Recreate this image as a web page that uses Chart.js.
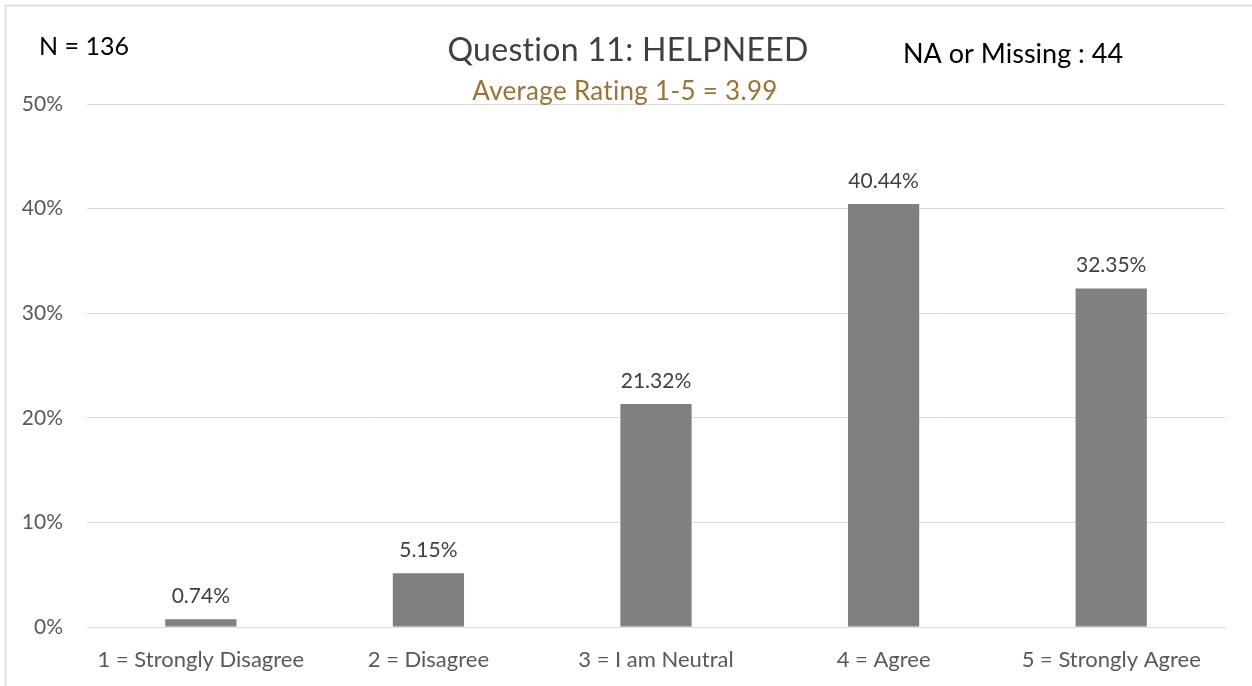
<!DOCTYPE html>
<html>
<head>
<meta charset="utf-8">
<script src="https://cdn.jsdelivr.net/npm/chart.js@4"></script>
<style>
  html, body { margin: 0; padding: 0; background: #ffffff; }
  #wrap { width: 1252px; height: 686px; position: relative; }
</style>
</head>
<body>
<div id="wrap"><canvas id="c" width="1252" height="686"></canvas></div>
<script>
const categories = ["1 = Strongly Disagree", "2 = Disagree", "3 = I am Neutral", "4 = Agree", "5 = Strongly Agree"];
const percentages = [0.74, 5.15, 21.32, 40.44, 32.35];
const yTicks = [0, 10, 20, 30, 40, 50];
const titleText = "Question 11: HELPNEED";
const subtitleText = "Average Rating 1-5 = 3.99";
const nText = "N = 136";
const naText = "NA or Missing : 44";

const FONT = "Lato, 'Open Sans', sans-serif";

const extrasPlugin = {
  id: 'extras',
  beforeDraw(chart) {
    const ctx = chart.ctx;
    ctx.save();
    ctx.fillStyle = '#ffffff';
    ctx.fillRect(0, 0, chart.width, chart.height);
    ctx.strokeStyle = '#d9d9d9';
    ctx.lineWidth = 1.5;
    ctx.strokeRect(5.5, 5.5, chart.width + 20, chart.height + 20);
    ctx.restore();
  },
  afterDatasetsDraw(chart) {
    const ctx = chart.ctx;
    ctx.save();
    // data labels
    const meta = chart.getDatasetMeta(0);
    ctx.font = "21px " + FONT;
    ctx.fillStyle = '#404040';
    ctx.textAlign = 'center';
    ctx.textBaseline = 'middle';
    meta.data.forEach((bar, i) => {
      ctx.fillText(percentages[i].toFixed(2) + '%', bar.x, bar.y - 23);
    });
    // title & subtitle (non-zero letter spacing avoids the "ti" ligature)
    if ('letterSpacing' in ctx) ctx.letterSpacing = '0.3px';
    const cx = 628;
    ctx.font = "32px " + FONT;
    ctx.fillStyle = '#404040';
    ctx.fillText(titleText, cx, 51);
    ctx.font = "26px " + FONT;
    ctx.fillStyle = '#9C7334';
    ctx.fillText(subtitleText, cx - 3, 92);
    if ('letterSpacing' in ctx) ctx.letterSpacing = '0px';
    // corner annotations
    ctx.fillStyle = '#000000';
    ctx.textAlign = 'left';
    ctx.font = "25px " + FONT;
    ctx.fillText(nText, 39, 47);
    ctx.font = "27px " + FONT;
    ctx.fillText(naText, 903, 54.5);
    ctx.restore();
  }
};

new Chart(document.getElementById('c'), {
  type: 'bar',
  data: {
    labels: categories,
    datasets: [{
      data: percentages,
      backgroundColor: '#808080',
      borderWidth: 0,
      categoryPercentage: 1.0,
      barPercentage: 0.313
    }]
  },
  options: {
    responsive: false,
    animation: false,
    events: [],
    layout: { padding: { top: 104, right: 27, bottom: 0, left: 0 } },
    plugins: {
      legend: { display: false },
      title: { display: false },
      tooltip: { enabled: false }
    },
    scales: {
      x: {
        grid: { display: false, drawTicks: false },
        border: { display: true, color: '#d9d9d9', width: 1 },
        ticks: { color: '#595959', font: { family: FONT, size: 22 }, padding: 20, maxRotation: 0, autoSkip: false },
        afterFit(scale) { scale.height = 59; }
      },
      y: {
        min: yTicks[0],
        max: yTicks[yTicks.length - 1],
        afterBuildTicks(scale) { scale.ticks = yTicks.map(v => ({ value: v })); },
        grid: { color: '#d9d9d9', lineWidth: 1, drawTicks: false },
        border: { display: false },
        ticks: { color: '#595959', font: { family: FONT, size: 21 }, padding: 24, callback: v => v + '%' },
        afterFit(scale) { scale.width = 87; }
      }
    }
  },
  plugins: [extrasPlugin]
});
</script>
</body>
</html>
